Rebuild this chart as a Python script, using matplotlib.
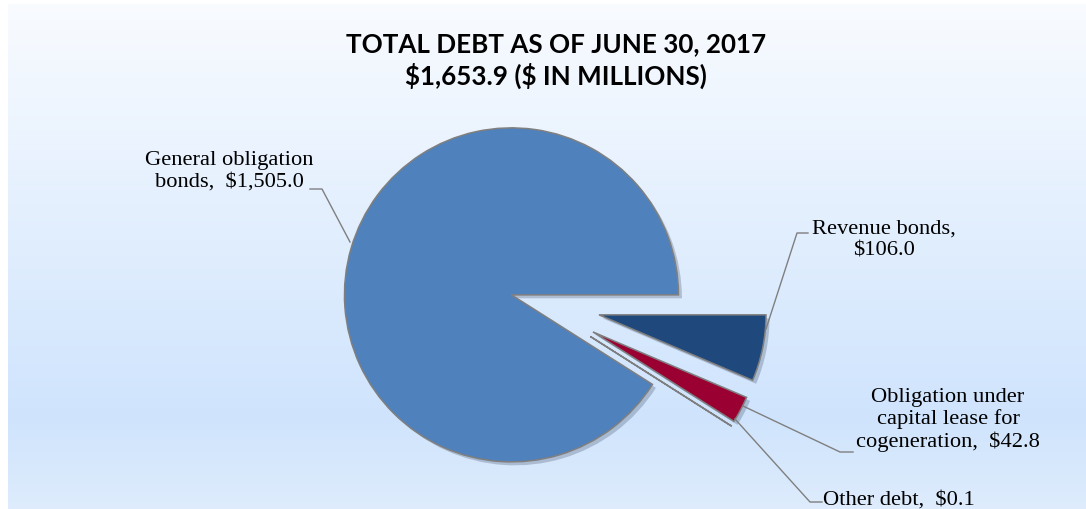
import numpy as np
import matplotlib
matplotlib.use("Agg")
import matplotlib.pyplot as plt
import matplotlib.patheffects as pe

plt.rcParams["text.parse_math"] = False

labels = ["Revenue bonds,\n$106.0",
          "Obligation under\ncapital lease for\ncogeneration,  $42.8",
          "Other debt,  $0.1",
          "General obligation\nbonds,  $1,505.0"]
values = [106.0, 42.8, 0.1, 1505.0]
colors = ["#1F497D", "#9B0033", "#9B0033", "#4F81BD"]
explode = [0.385, 0.385, 0.385, 0.153]

W, H = 1086, 510
R = 167
fig = plt.figure(figsize=(W / 100, H / 100), dpi=100)
ax = fig.add_axes([0, 0, 1, 1])

# vertical background gradient: near white at top, light blue lower down
ys = np.linspace(0, 1, 256)
top = np.array([0.975, 0.985, 1.0])
mid = np.array([0.812, 0.894, 0.992])
bot = np.array([0.870, 0.925, 0.990])
grad = np.where(ys[:, None] < 0.82,
                top + (mid - top) * (ys[:, None] / 0.82),
                mid + (bot - mid) * ((ys[:, None] - 0.82) / 0.18))
ax.imshow(grad[:, None, :].repeat(2, axis=1), extent=[8, W, 0, H - 5],
          origin="upper", aspect="auto", zorder=0)

# pie explode offsets are in data units, so scale by the radius
wedges, _ = ax.pie(values, colors=colors, explode=[e * R for e in explode],
                   startangle=0, counterclock=False, radius=R,
                   center=(536, H - 303),
                   wedgeprops=dict(edgecolor="#7F7F7F", linewidth=1.1),
                   frame=True)
for w in wedges:
    w.set_zorder(2)
    w.set_path_effects([pe.SimplePatchShadow(offset=(2.5, -2.5), alpha=0.25,
                                             shadow_rgbFace="#2a3a55"),
                        pe.Normal()])
ax.set_xlim(0, W)
ax.set_ylim(0, H)
ax.set_aspect("equal")
ax.axis("off")

ax.text(556, H - 44, "TOTAL DEBT AS OF JUNE 30, 2017", ha="center", va="center",
        fontsize=18.7, fontweight="bold", family="Lato", color="black", zorder=5)
ax.text(556, H - 76, "$1,653.9 ($ IN MILLIONS)", ha="center", va="center",
        fontsize=18.7, fontweight="bold", family="Lato", color="black", zorder=5)

lab_font = dict(family="Liberation Serif", fontsize=16.2, color="black",
                ha="center", va="center", linespacing=1.15, zorder=5)
# label text positions and leader line points (pixel coords, y measured down)
label_pos = [(884, 240), (948, 420), (899, 500), (229, 171)]
leaders = [[(766, 330), (797, 234), (808, 234)],
           [(743, 407), (840, 453), (853, 453)],
           [(735, 420), (810, 503), (822, 503)],
           [(350, 243), (322, 190), (310, 190)]]
for lab, (tx, ty), pts in zip(labels, label_pos, leaders):
    ax.text(tx, H - ty, lab, **lab_font)
    xs = [p[0] for p in pts]
    yv = [H - p[1] for p in pts]
    ax.plot(xs, yv, color="#7F7F7F", lw=1.0, zorder=4)

fig.savefig("out.png", dpi=100)
